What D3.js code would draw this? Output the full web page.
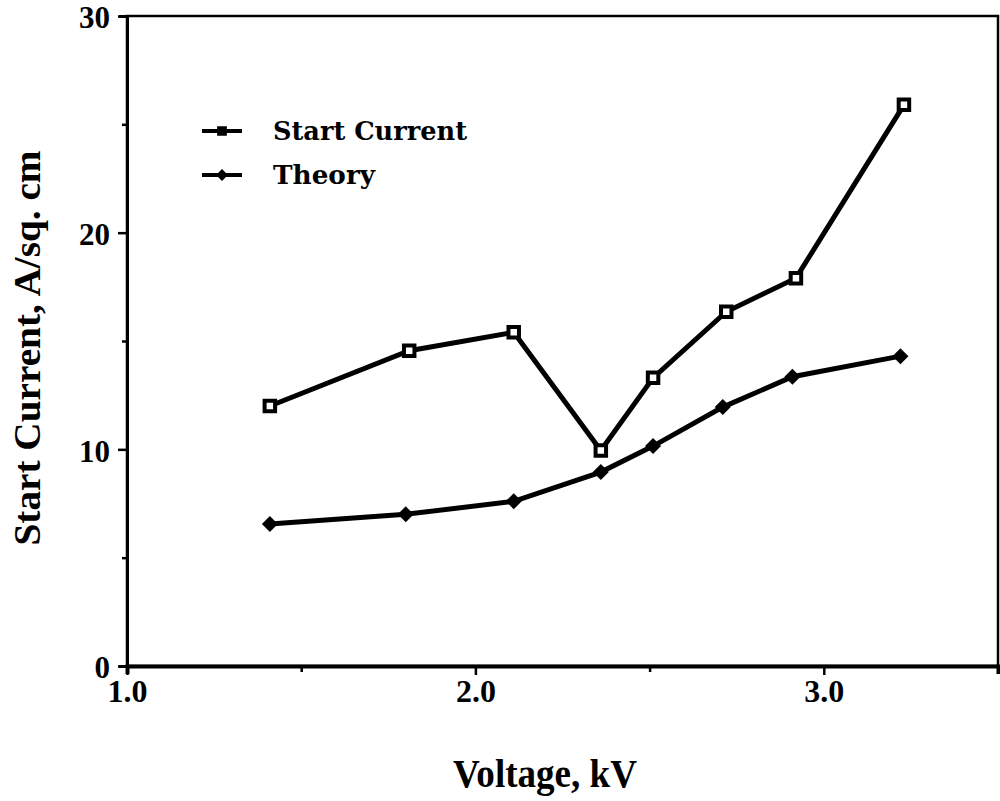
<!DOCTYPE html>
<html>
<head>
<meta charset="utf-8">
<script src="https://cdn.jsdelivr.net/npm/d3@7"></script>
<style>
  body { margin: 0; background: #fff; }
  text { font-family: "Liberation Serif", "Times New Roman", serif; font-weight: bold; fill: #000; }
</style>
</head>
<body>
<svg width="1000" height="801"></svg>
<script>
// data
const voltage = [1.41, 1.81, 2.11, 2.36, 2.51, 2.72, 2.92, 3.23];
const startCurrent = [12.0, 14.55, 15.4, 9.95, 13.3, 16.35, 17.9, 25.9];
const theoryVoltage = [1.41, 1.80, 2.11, 2.36, 2.51, 2.71, 2.91, 3.22];
const theory = [6.55, 7.0, 7.6, 8.95, 10.15, 11.95, 13.35, 14.3];
const xTickLabels = ["1.0", "2.0", "3.0"];
const yTickLabels = ["0", "10", "20", "30"];
const legendNames = ["Start Current", "Theory"];

const svg = d3.select("svg");
const mLeft = 127, mRight = 998, mTop = 16, mBottom = 666;

const x = d3.scaleLinear().domain([1.0, 3.5]).range([mLeft, mRight]);
const y = d3.scaleLinear().domain([0, 30]).range([mBottom, mTop]);

// frame
svg.append("rect")
  .attr("x", mLeft).attr("y", mTop)
  .attr("width", mRight - mLeft).attr("height", mBottom - mTop)
  .attr("fill", "none").attr("stroke", "#000").attr("stroke-width", 2.5);

// x axis
const xAxis = d3.axisBottom(x)
  .tickValues([1.0, 1.5, 2.0, 2.5, 3.0, 3.5])
  .tickSize(8)
  .tickFormat(d => xTickLabels.includes(d.toFixed(1)) ? d.toFixed(1) : "");
const gx = svg.append("g").attr("transform", `translate(0,${mBottom})`).call(xAxis)
  .attr("font-size", 32).attr("font-family", null);
gx.select(".domain").attr("stroke-width", 4);
gx.selectAll(".tick line").attr("stroke-width", 2.5)
  .attr("y2", d => (d % 1 === 0) ? 9 : 6);
gx.selectAll(".tick text").attr("y", 13);

// y axis
const yAxis = d3.axisLeft(y)
  .tickValues([0, 5, 10, 15, 20, 25, 30])
  .tickSize(8)
  .tickFormat(d => yTickLabels.includes(String(d)) ? String(d) : "");
const gy = svg.append("g").attr("transform", `translate(${mLeft},0)`).call(yAxis)
  .attr("font-size", 31).attr("font-family", null);
gy.select(".domain").attr("stroke-width", 3);
gy.selectAll(".tick line").attr("stroke-width", 2.5)
  .attr("x2", d => (d % 10 === 0) ? -9 : -5);
gy.selectAll(".tick text").attr("x", -17).attr("dy", "0.38em");

// axis titles
svg.append("text")
  .attr("x", 545).attr("y", 787)
  .attr("text-anchor", "middle")
  .attr("textLength", 184).attr("lengthAdjust", "spacingAndGlyphs")
  .style("font-size", "40px")
  .text("Voltage, kV");

svg.append("text")
  .attr("transform", "translate(40,348) rotate(-90)")
  .attr("text-anchor", "middle")
  .attr("textLength", 395).attr("lengthAdjust", "spacingAndGlyphs")
  .style("font-size", "37px")
  .text("Start Current, A/sq. cm");

// lines
const line = d3.line().x(d => x(d[0])).y(d => y(d[1]));
const scPts = voltage.map((v, i) => [v, startCurrent[i]]);
const thPts = theoryVoltage.map((v, i) => [v, theory[i]]);

svg.append("path").datum(thPts)
  .attr("d", line).attr("fill", "none")
  .attr("stroke", "#000").attr("stroke-width", 5);
svg.append("path").datum(scPts)
  .attr("d", line).attr("fill", "none")
  .attr("stroke", "#000").attr("stroke-width", 5);

const square = d3.symbol().type(d3.symbolSquare).size(110);
const diamond = d3.symbol().type(d3.symbolSquare).size(128);

svg.selectAll(".sq").data(scPts).join("path")
  .attr("class", "sq")
  .attr("transform", d => `translate(${x(d[0])},${y(d[1])})`)
  .attr("d", square)
  .attr("fill", "#fff").attr("stroke", "#000").attr("stroke-width", 4);

svg.selectAll(".dm").data(thPts).join("path")
  .attr("class", "dm")
  .attr("transform", d => `translate(${x(d[0])},${y(d[1])}) rotate(45)`)
  .attr("d", diamond)
  .attr("fill", "#000");

// legend
const legend = svg.append("g").attr("transform", "translate(202,131)");
legendNames.forEach((name, i) => {
  const g = legend.append("g").attr("transform", `translate(0,${i * 44})`);
  g.append("line").attr("x1", 0).attr("x2", 40)
    .attr("stroke", "#000").attr("stroke-width", 4);
  if (i === 0) {
    g.append("path").attr("transform", "translate(20,0)")
      .attr("d", d3.symbol().type(d3.symbolSquare).size(60))
      .attr("fill", "#000").attr("stroke", "#000").attr("stroke-width", 2);
  } else {
    g.append("path").attr("transform", "translate(20,0) rotate(45)")
      .attr("d", d3.symbol().type(d3.symbolSquare).size(70))
      .attr("fill", "#000");
  }
  g.append("text")
    .attr("x", 71).attr("y", 9)
    .style("font-size", "26px")
    .style("font-family", "'DejaVu Serif', serif")
    .attr("textLength", i === 0 ? 194 : 102)
    .attr("lengthAdjust", "spacingAndGlyphs")
    .text(name);
});
</script>
</body>
</html>
